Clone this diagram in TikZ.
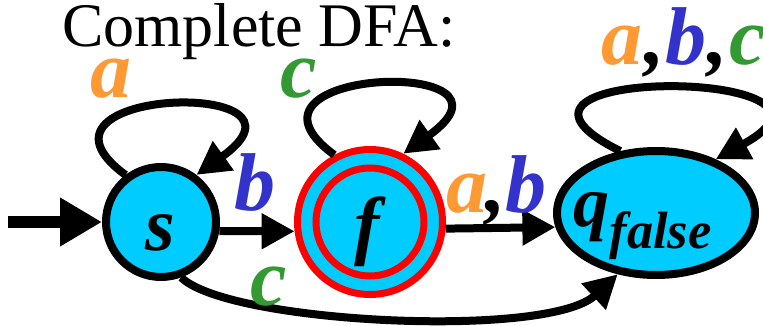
\documentclass[tikz,border=0pt]{standalone}
\usepackage{fontspec}
\setmainfont{Liberation Serif}
\usetikzlibrary{arrows.meta,shapes.geometric}
\definecolor{cA}{HTML}{FF9933}
\definecolor{cB}{HTML}{3333CC}
\definecolor{cC}{HTML}{339933}
\definecolor{cyanF}{HTML}{00CCFF}
\newcommand\lblfont{\fontsize{82}{82}\selectfont\bfseries\itshape}
\begin{document}
\begin{tikzpicture}[x=1pt,y=-1pt,
  edge/.style={line width=8pt,-{Triangle[length=33pt,width=34pt]}},
  lab/.style={inner sep=0pt,anchor=base,font=\lblfont},
  state/.style={circle,draw=black,line width=8pt,fill=cyanF,inner sep=0pt}]
\useasboundingbox (0,0) rectangle (763,326);
\node[anchor=base west,inner sep=0pt,font=\fontsize{62}{62}\selectfont] (title) at (62,47) {Complete DFA:};
% states
\node[state,minimum size=110pt] (s) at (161,222) {};
\node[circle,draw=red,line width=7pt,fill=cyanF,minimum size=145pt,inner sep=0pt] (f) at (370,222) {};
\draw[red,line width=7pt] (f.center) circle (54);
\node[ellipse,draw=black,line width=8pt,fill=cyanF,minimum width=198pt,minimum height=124pt,inner sep=0pt] (q) at (656,213) {};
% state texts
\node[lab,scale=0.93] (slab) at (160,250) {s};
\node[lab,scale=0.93] (flab) at (367,250) {f};
\node[lab,anchor=base west,scale=0.88] (qlab) at (573,226) {q};
\node[lab,anchor=base west,scale=0.64] (qsub) at ([yshift=-22pt]qlab.base east) {false};
% start arrow
\coordinate (init) at (8,222);
\draw[line width=12pt,-{Triangle[length=42pt,width=46pt]}] (init) -- (s.west);
% transitions
\draw[edge] (s.-9) -- (f.187);
\draw[edge] (f.-5) -- (q.188.5);
\draw[edge] (s.127) .. controls +(-120,-88) and +(137,-98) .. (s.53);
\draw[edge] (f.118) .. controls +(-120,-88) and +(137,-98) .. (f.64);
\draw[edge] (q.120) .. controls +(-175,-87) and +(168,-92) .. (q.42.5);
\draw[edge] (s.-70.5) .. controls +(47,46) and +(-70,65) .. (q.238.5);
% labels
\node[lab,text=cA] (la1) at (111,98) {a};
\node[lab,text=cC] (lc1) at (299,98) {c};
\node[lab,text=cB] (lb1) at (255,210) {b};
\node[lab,text=cA] (la2) at (467,212) {a};
\node[lab] (cm2) at (496,212) {,};
\node[lab,text=cB] (lb2) at (526,212) {b};
\node[lab,text=cA] (la3) at (622,65) {a};
\node[lab] (cm3) at (655,65) {,};
\node[lab,text=cB] (lb3) at (686,65) {b};
\node[lab] (cm4) at (718,65) {,};
\node[lab,text=cC] (lc3) at (748,65) {c};
\node[lab,text=cC] (lc2) at (269,305) {c};
\end{tikzpicture}
\end{document}
